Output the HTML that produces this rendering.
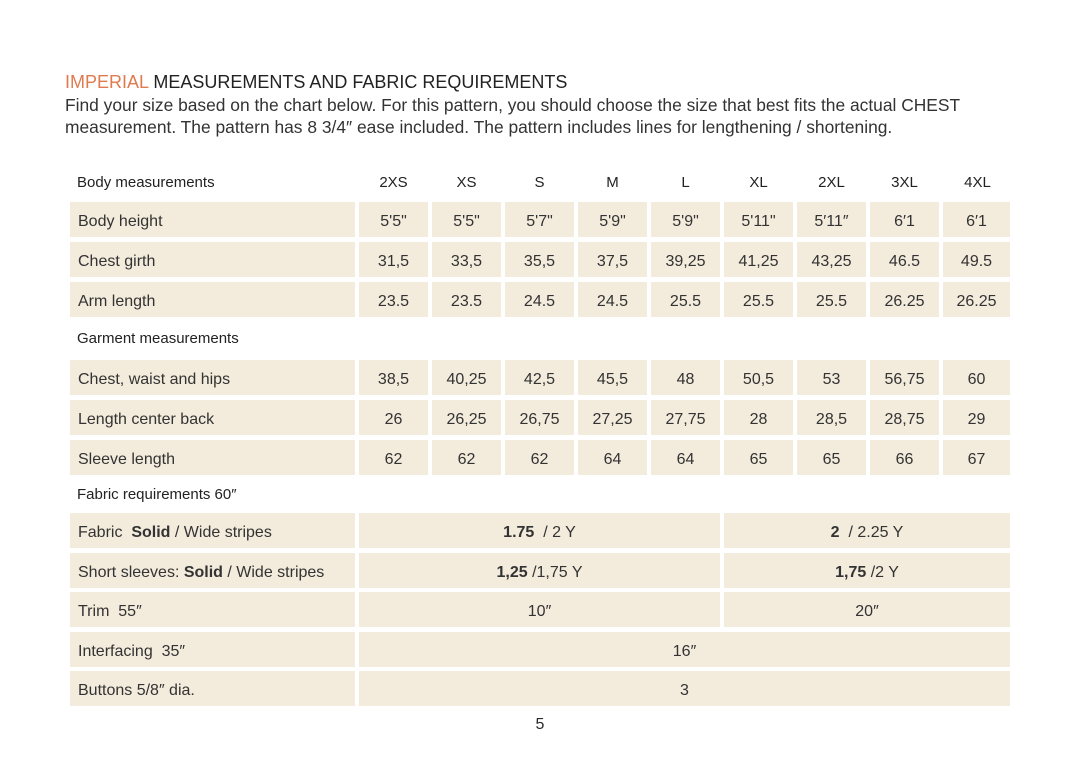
<!DOCTYPE html>
<html><head><meta charset="utf-8"><style>
body{margin:0;width:1080px;height:769px;background:#fff;font-family:"Liberation Sans",sans-serif;color:#2a2a2a;position:relative;overflow:hidden}
.a{position:absolute}
.c{position:absolute;background:#f3ebdc;height:35px;line-height:39px;font-size:16px;text-align:center;color:#333}
.l{text-align:left;padding-left:8px;box-sizing:border-box}
.h{position:absolute;font-size:15px;color:#222;text-align:center;width:69px}
.sec{position:absolute;left:77px;font-size:15px;color:#222}
</style></head><body>
<div class="a" style="left:65px;top:72px;font-size:18px;color:#222"><span style="color:#e07a4f">IMPERIAL</span> MEASUREMENTS AND FABRIC REQUIREMENTS</div>
<div class="a" style="left:65px;top:94px;font-size:17.4px;line-height:22px;color:#333">Find your size based on the chart below. For this pattern, you should choose the size that best fits the actual CHEST<br>measurement. The pattern has 8 3/4″ ease included. The pattern includes lines for lengthening / shortening.</div>
<div class="sec" style="top:174px">Body measurements</div>
<div class="sec" style="top:330px">Garment measurements</div>
<div class="sec" style="top:486px">Fabric requirements 60″</div>
<div id="g"></div>
<div class="a" style="left:530px;top:716px;font-size:16px;width:20px;text-align:center">5</div>
<script>
var X=[359,432,505,578,651,724,797,870,943],S=["2XS","XS","S","M","L","XL","2XL","3XL","4XL"],h="";
S.forEach(function(s,i){h+='<div class="h" style="left:'+X[i]+'px;top:174px">'+s+'</div>'});
var rows=[[202,"Body height",["5'5\"","5'5\"","5'7\"","5'9\"","5'9\"","5'11\"","5′11″","6′1","6′1"]],
[242,"Chest girth",["31,5","33,5","35,5","37,5","39,25","41,25","43,25","46.5","49.5"]],
[282,"Arm length",["23.5","23.5","24.5","24.5","25.5","25.5","25.5","26.25","26.25"]],
[360,"Chest, waist and hips",["38,5","40,25","42,5","45,5","48","50,5","53","56,75","60"]],
[400,"Length center back",["26","26,25","26,75","27,25","27,75","28","28,5","28,75","29"]],
[440,"Sleeve length",["62","62","62","64","64","65","65","66","67"]]];
rows.forEach(function(r){h+='<div class="c l" style="left:70px;top:'+r[0]+'px;width:285px">'+r[1]+'</div>';
r[2].forEach(function(v,i){h+='<div class="c" style="left:'+X[i]+'px;top:'+r[0]+'px;width:'+(i==8?67:69)+'px">'+v+'</div>'})});
var f=[[513,"Fabric&nbsp; <b>Solid</b> / Wide stripes","<b>1.75</b>&nbsp; / 2 Y","<b>2</b>&nbsp; / 2.25 Y"],
[553,"Short sleeves: <b>Solid</b> / Wide stripes","<b>1,25</b> /1,75 Y","<b>1,75</b> /2 Y"],
[592,"Trim&nbsp; 55″","10″","20″"],[632,"Interfacing&nbsp; 35″","16″",null],[671,"Buttons 5/8″ dia.","3",null]];
f.forEach(function(r){h+='<div class="c l" style="left:70px;top:'+r[0]+'px;width:285px">'+r[1]+'</div>';
if(r[3]){h+='<div class="c" style="left:359px;top:'+r[0]+'px;width:361px">'+r[2]+'</div><div class="c" style="left:724px;top:'+r[0]+'px;width:286px">'+r[3]+'</div>'}
else h+='<div class="c" style="left:359px;top:'+r[0]+'px;width:651px">'+r[2]+'</div>'});
document.getElementById("g").innerHTML=h;
</script>
</body></html>
